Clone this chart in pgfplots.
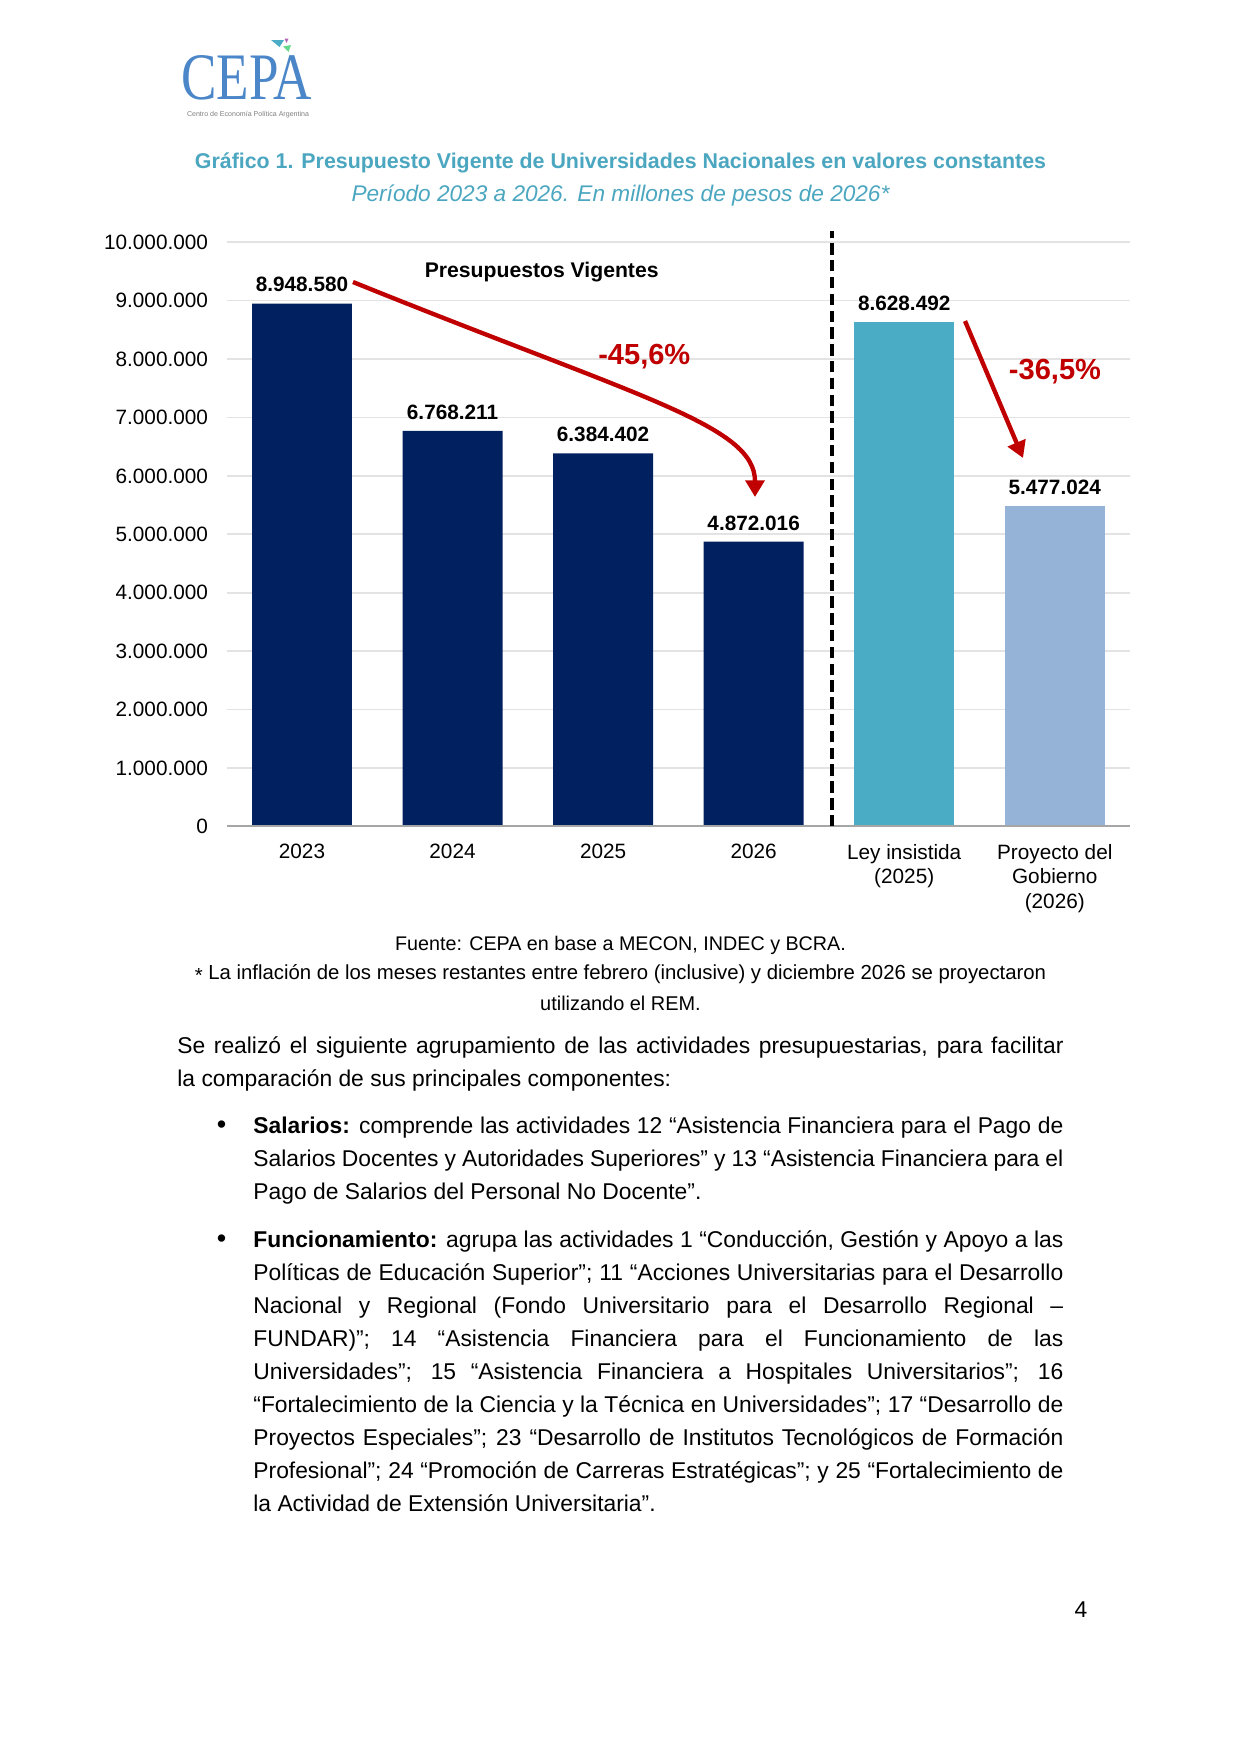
\documentclass[border=0pt]{standalone}
\usepackage{pgfplots}
\pgfplotsset{compat=1.18}
\usepackage{fontspec}
\setmainfont{Liberation Sans}
\newfontfamily\logofont{Liberation Serif}
\usetikzlibrary{arrows.meta}
\definecolor{navy}{HTML}{002060}
\definecolor{tealbar}{HTML}{4BACC6}
\definecolor{lblue}{HTML}{95B3D7}
\definecolor{titlecol}{HTML}{4BA6C0}
\definecolor{arrred}{HTML}{C00000}
\definecolor{logoblue}{HTML}{4A86C8}
\newcommand{\body}{\fontsize{11}{13}\selectfont}
\newcommand{\jl}[1]{\makebox[426.9pt][s]{#1}}
\newcommand{\jb}[1]{\makebox[390.2pt][s]{#1}}
\begin{document}
\begin{tikzpicture}
\begin{scope}[x=0.48177pt,y=-0.48177pt]
\useasboundingbox[fill=white] (0,0) rectangle (1241,1755);
% logo
\node[anchor=base, inner sep=0, text depth=0pt, text=logoblue, xscale=0.8] at (246.7,99) {\logofont\fontsize{32}{32}\selectfont CEPA};
\fill[tealbar] (271,40) -- (284,40) -- (279.5,47) -- cycle;
\fill[violet!60] (284.5,38.5) -- (288.5,38.5) -- (286.5,43) -- cycle;
\fill[green!50!teal!60] (283,46.5) -- (291,45) -- (288.5,52) -- cycle;
\node[anchor=base, inner sep=0, text=gray] at (248,116) {\fontsize{3.4}{4}\selectfont Centro de Economía Política Argentina};
% titles
\node[anchor=base, inner sep=0, text=titlecol] at (620.5,168) {\fontsize{10.3}{12}\selectfont\bfseries Gráfico 1. Presupuesto Vigente de Universidades Nacionales en valores constantes};
\node[anchor=base, inner sep=0, text=titlecol] at (620.5,201.5) {\fontsize{10.9}{12}\selectfont\itshape Período 2023 a 2026. En millones de pesos de 2026*};
% footnotes
\node[anchor=base, inner sep=0] at (620.5,950) {\fontsize{9.5}{12}\selectfont Fuente: CEPA en base a MECON, INDEC y BCRA.};
\node[anchor=base, inner sep=0] at (620.5,979.5) {\fontsize{9.8}{12}\selectfont \raisebox{-0.25ex}{*} La inflación de los meses restantes entre febrero (inclusive) y diciembre 2026 se proyectaron};
\node[anchor=base, inner sep=0] at (620.5,1010) {\fontsize{9.6}{12}\selectfont utilizando el REM.};
% body
\node[anchor=base west, inner sep=0] at (177,1053) {\body\jl{Se realizó el siguiente agrupamiento de las actividades presupuestarias, para facilitar}};
\node[anchor=base west, inner sep=0] at (177,1086.5) {\body la comparación de sus principales componentes:};
\node[anchor=base, inner sep=0] at (221.5,1133) {\fontsize{13}{13}\selectfont\textbullet};
\node[anchor=base west, inner sep=0] at (253,1133) {\body\jb{\textbf{Salarios:} comprende las actividades 12 “Asistencia Financiera para el Pago de}};
\node[anchor=base west, inner sep=0] at (253,1166.3) {\body\jb{Salarios Docentes y Autoridades Superiores” y 13 “Asistencia Financiera para el}};
\node[anchor=base west, inner sep=0] at (253,1199.6) {\body Pago de Salarios del Personal No Docente”.};
\node[anchor=base, inner sep=0] at (221.5,1247) {\fontsize{13}{13}\selectfont\textbullet};
\node[anchor=base west, inner sep=0] at (253,1247) {\body\jb{\textbf{Funcionamiento:} agrupa las actividades 1 “Conducción, Gestión y Apoyo a las}};
\node[anchor=base west, inner sep=0] at (253,1280) {\body\jb{Políticas de Educación Superior”; 11 “Acciones Universitarias para el Desarrollo}};
\node[anchor=base west, inner sep=0] at (253,1313) {\body\jb{Nacional y Regional (Fondo Universitario para el Desarrollo Regional –}};
\node[anchor=base west, inner sep=0] at (253,1346) {\body\jb{FUNDAR)”; 14 “Asistencia Financiera para el Funcionamiento de las}};
\node[anchor=base west, inner sep=0] at (253,1379) {\body\jb{Universidades”; 15 “Asistencia Financiera a Hospitales Universitarios”; 16}};
\node[anchor=base west, inner sep=0] at (253,1412) {\body\jb{“Fortalecimiento de la Ciencia y la Técnica en Universidades”; 17 “Desarrollo de}};
\node[anchor=base west, inner sep=0] at (253,1445) {\body\jb{Proyectos Especiales”; 23 “Desarrollo de Institutos Tecnológicos de Formación}};
\node[anchor=base west, inner sep=0] at (253,1478) {\body\jb{Profesional”; 24 “Promoción de Carreras Estratégicas”; y 25 “Fortalecimiento de}};
\node[anchor=base west, inner sep=0] at (253,1511) {\body la Actividad de Extensión Universitaria”.};
\node[anchor=base, inner sep=0] at (1081,1617) {\body 4};
\end{scope}

\begin{axis}[
  at={(109.22pt,-398.09pt)}, anchor=south west,
  scale only axis, width=435.2pt, height=281.4pt,
  xmin=-0.5, xmax=5.5, ymin=0, ymax=10000000,
  clip=false,
  axis line style={draw=none},
  major tick length=0pt,
  ymajorgrids, grid style={draw=gray!22, line width=0.8pt},
  ytick={0,1000000,...,10000000},
  scaled y ticks=false,
  yticklabel style={font=\fontsize{10}{12}\selectfont, xshift=-5.5pt,
    /pgf/number format/fixed, /pgf/number format/precision=0,
    /pgf/number format/1000 sep={.}, /pgf/number format/assume math mode=true},
  xtick={0,1,2,3,4,5},
  xticklabels={2023,2024,2025,2026,{Ley insistida\\(2025)},{Proyecto del\\Gobierno\\(2026)}},
  xticklabel style={align=center, font=\fontsize{10}{12}\selectfont, yshift=-5pt},
  point meta=explicit symbolic,
  nodes near coords,
  nodes near coords style={font=\fontsize{10}{12}\selectfont\bfseries, anchor=south, yshift=2pt},
]
\addplot[ybar, bar width=0.664, draw=none, fill=navy] coordinates {(0,8948580)[8.948.580] (1,6768211)[6.768.211] (2,6384402)[6.384.402] (3,4872016)[4.872.016]};
\addplot[ybar, bar width=0.664, draw=none, fill=tealbar] coordinates {(4,8628492)[8.628.492]};
\addplot[ybar, bar width=0.664, draw=none, fill=lblue] coordinates {(5,5477024)[5.477.024]};
\draw[gray!70, line width=0.9pt] (axis cs:-0.5,0) -- (axis cs:5.5,0);
\draw[black, line width=2pt, dash pattern=on 5.5pt off 2.6pt] (axis cs:3.52,0) -- (axis cs:3.52,10200000);
\end{axis}

\begin{scope}[x=0.48177pt,y=-0.48177pt]
\draw[arrred, line width=2.1pt, -{Triangle[length=8pt,width=9pt]}] (353,282) .. controls (640,398) and (755,425) .. (755,497);
\draw[arrred, line width=2.1pt, -{Triangle[length=8pt,width=9pt]}] (965,321) -- (1023,458);
\node[text=arrred, inner sep=0] at (644.3,356.7) {\fontsize{14}{16}\selectfont\bfseries -45,6\%};
\node[text=arrred, inner sep=0] at (1055,371.7) {\fontsize{14}{16}\selectfont\bfseries -36,5\%};
\node[inner sep=0] at (541.7,271.7) {\fontsize{10.2}{12}\selectfont\bfseries Presupuestos Vigentes};
\end{scope}
\end{tikzpicture}
\end{document}
